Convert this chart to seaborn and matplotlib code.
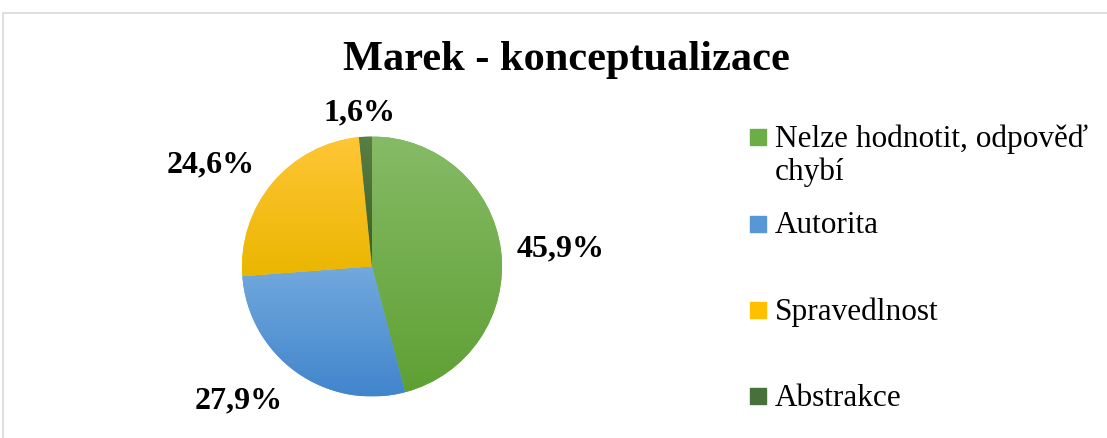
import numpy as np
import matplotlib
matplotlib.use("Agg")
import matplotlib.pyplot as plt
import seaborn as sns
from matplotlib.colors import LinearSegmentedColormap
from matplotlib.patches import Rectangle

title = "Marek - konceptualizace"
categories = ["Nelze hodnotit, odpověď\nchybí", "Autorita", "Spravedlnost", "Abstrakce"]
shares = [45.9, 27.9, 24.6, 1.6]
labels = ["45,9%", "27,9%", "24,6%", "1,6%"]

# gradient top / bottom colours per slice, plus flat colour for the legend
grad_top = ["#86bb66", "#72a9de", "#ffc637", "#587f45"]
grad_bottom = ["#5fa034", "#4185cc", "#ebb600", "#3a5f25"]
flat = sns.color_palette(["#6cad47", "#5797d5", "#ffc000", "#48703a"])

sns.set_theme(style="white")
plt.rcParams["font.family"] = ["Liberation Serif", "DejaVu Serif"]

W, H = 1107, 439
fig = plt.figure(figsize=(W / 100, H / 100), dpi=100)

# chart border
fig.patches.append(Rectangle((3 / W, -0.05), 1.2, 1 - 14 / H + 0.05,
                             transform=fig.transFigure, fill=False,
                             edgecolor="#d9d9d9", linewidth=1.2))

cx, cy, r = 372, 267.5, 130
ax = fig.add_axes([(cx - r) / W, (H - cy - r) / H, 2 * r / W, 2 * r / H])
wedges, _ = ax.pie(shares, startangle=90, counterclock=False, radius=1,
                   colors=flat, wedgeprops=dict(linewidth=0))

grad = np.linspace(0, 1, 256).reshape(-1, 1)
for w, c0, c1 in zip(wedges, grad_top, grad_bottom):
    ext = w.get_path().get_extents()
    cmap = LinearSegmentedColormap.from_list("g", [c0, c1])
    im = ax.imshow(grad, cmap=cmap, aspect="auto", interpolation="bicubic",
                   extent=(ext.x0, ext.x1, ext.y0, ext.y1), origin="upper",
                   zorder=3)
    im.set_clip_path(w)

ax.set_xlim(-1, 1)
ax.set_ylim(-1, 1)
ax.axis("off")

# outside-end labels
for w, lab in zip(wedges, labels):
    ang = np.deg2rad((w.theta1 + w.theta2) / 2)
    c, s = np.cos(ang), np.sin(ang)
    ha = "left" if c > 0.3 else ("right" if c < -0.3 else "center")
    va = "bottom" if s > 0.3 else ("top" if s < -0.3 else "center")
    dx = -0.04 if c < 0 else 0.0
    dy = -0.04 if s > 0.3 else 0.0
    ax.text(1.12 * c + dx, 1.12 * s + dy, lab, ha=ha, va=va, fontsize=23,
            fontweight="bold", color="black", clip_on=False, zorder=5)

fig.text(566 / W, 1 - 60 / H, title, ha="center", va="center",
         fontsize=30.5, fontweight="bold", color="black")

# legend
leg_y = [138, 224.5, 311, 397]
for name, col, y in zip(categories, flat, leg_y):
    fig.patches.append(Rectangle((750 / W, 1 - (y + 8) / H), 16 / W, 16 / H,
                                 transform=fig.transFigure, color=col))
    fig.text(775 / W, 1 - (y - 13) / H, name, ha="left", va="top",
             fontsize=22.5, color="black", linespacing=1.15)

fig.savefig("out.png", dpi=100)
